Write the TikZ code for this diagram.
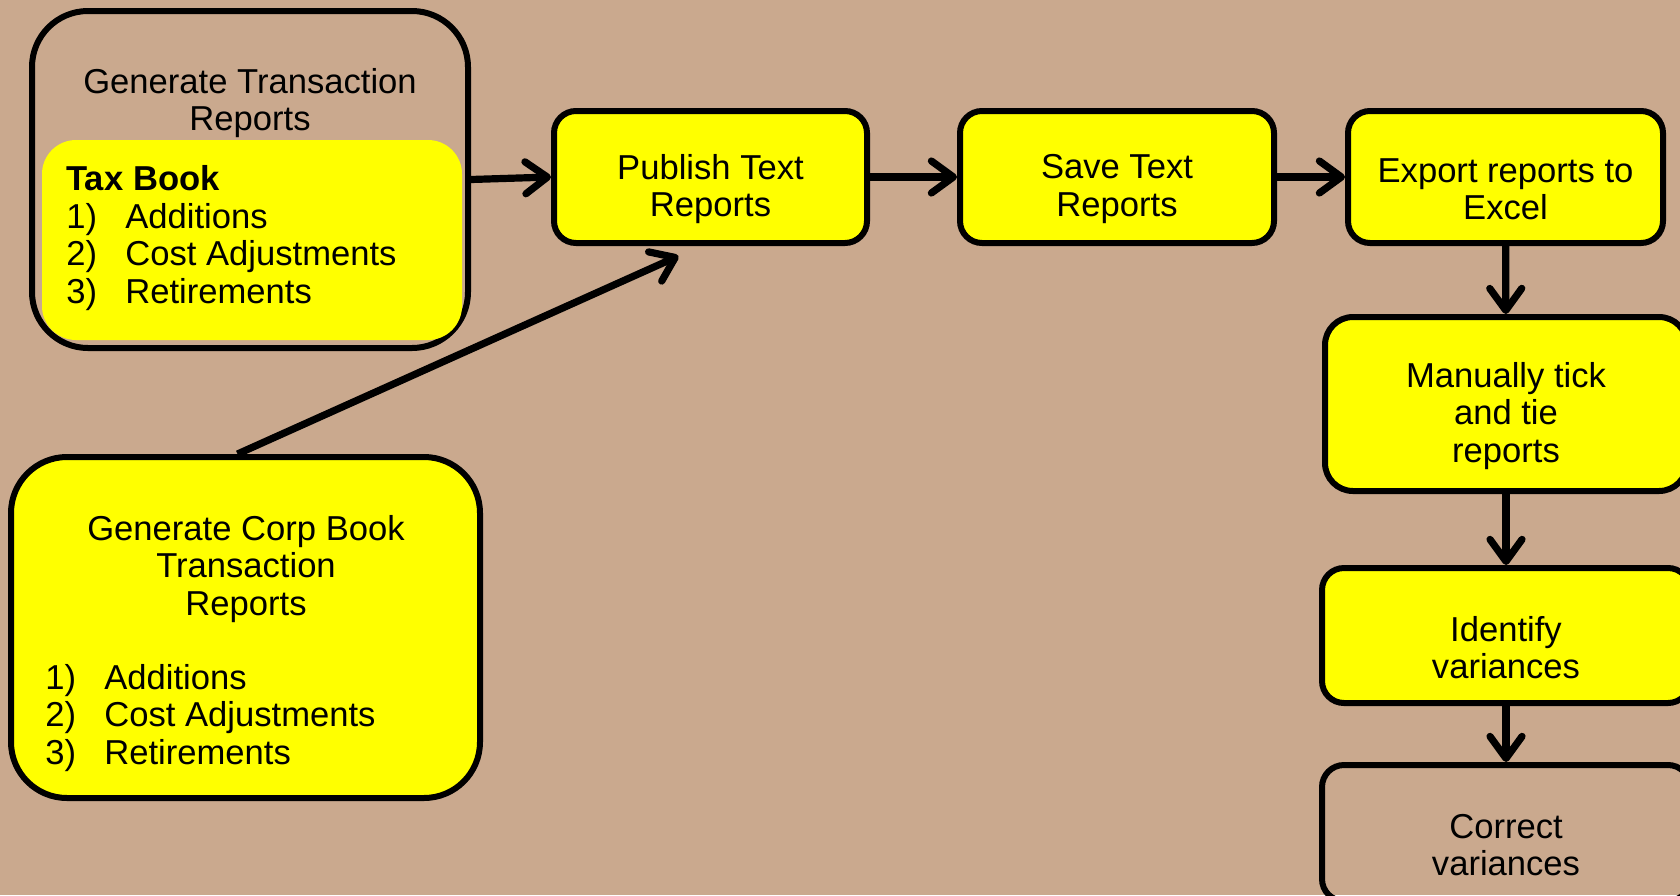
\documentclass[tikz,border=0pt]{standalone}
\usepackage{fontspec}
\setmainfont{Liberation Sans}
\usetikzlibrary{arrows.meta}
\definecolor{bgtan}{RGB}{202,169,142}
\definecolor{boxyellow}{RGB}{255,255,0}
\newcommand\numitem[1]{\makebox[29.5pt][l]{#1}}

\begin{document}
\begin{tikzpicture}[x=0.5pt,y=-0.5pt,
  every node/.style={font=\fontsize{17.3pt}{18.7pt}\selectfont},
  box/.style={draw,line width=3pt,fill=boxyellow,rounded corners=11pt},
  boxtext/.style={align=center,yshift=-6pt},
  flow/.style={line width=3.6pt,-{Straight Barb[length=11pt,width=16pt,round]}}]
\useasboundingbox (0,0) rectangle (1680,895);
\clip (0,0) rectangle (1680,895);
\fill[bgtan] (0,0) rectangle (1680,895);

% tax book group
\node[draw,line width=3pt,rounded corners=28pt,minimum width=218pt,minimum height=168.5pt] (gen) at (250,179.5) {};
\node[fill=boxyellow,rounded corners=17pt,minimum width=210pt,minimum height=100pt] (tax) at (252,240) {};
\node[align=center] (gentitle) at (250,103) {Generate Transaction\\Reports};
\node[anchor=west,align=left,inner sep=0pt] (taxlist) at (66,238) {\textbf{Tax Book}\\
  \numitem{1)}Additions\\ \numitem{2)}Cost Adjustments\\ \numitem{3)}Retirements};

% corp book
\node[box,rounded corners=28pt,minimum width=234.5pt,minimum height=170.5pt] (corp) at (245.5,627.5) {};
\node[align=center] (corptitle) at (246,569) {Generate Corp Book\\Transaction\\Reports};
\node[anchor=west,align=left,inner sep=0pt] (corplist) at (45,718) {\numitem{1)}Additions\\
  \numitem{2)}Cost Adjustments\\ \numitem{3)}Retirements};

% process chain
\node[box,minimum width=156.5pt,minimum height=66pt,
  label={[boxtext,name=pubtext]center:Publish Text\\Reports}] (pub) at (710.5,177) {};
\node[box,minimum width=157pt,minimum height=66pt,
  label={[boxtext,name=savetext]center:Save Text\\Reports}] (save) at (1117,177) {};
\node[box,minimum width=157.5pt,minimum height=66pt,
  label={[boxtext,name=exptext]center:Export reports to\\Excel}] (exp) at (1505.5,177) {};
\node[box,rounded corners=14pt,minimum width=181pt,minimum height=87pt,
  label={[boxtext,name=mantext]center:Manually tick\\and tie\\reports}] (man) at (1506,404) {};
\node[box,minimum width=184pt,minimum height=67.5pt,
  label={[boxtext,name=idftext]center:Identify\\variances}] (idf) at (1506,635.5) {};
\node[draw,line width=3pt,rounded corners=11pt,minimum width=184pt,minimum height=68pt,
  label={[boxtext,name=cortext]center:Correct\\variances}] (cor) at (1506,833) {};

\coordinate (corpout) at ([xshift=-4pt]corp.north);
\coordinate (pubin) at ([xshift=-16pt,yshift=-5pt]pub.south);

\draw[flow] (gen.east) -- (pub.west);
\draw[flow] (pub) -- (save);
\draw[flow] (save) -- (exp);
\draw[flow] (exp) -- (man);
\draw[flow] (man) -- (idf);
\draw[flow] (idf) -- (cor);
\draw[flow] (corpout) -- (pubin);
\end{tikzpicture}
\end{document}
